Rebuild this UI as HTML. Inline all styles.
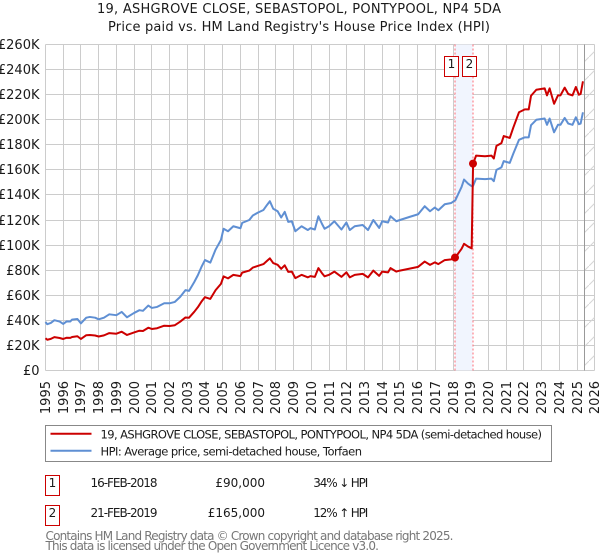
<!DOCTYPE html>
<html>
<head>
<meta charset="utf-8">
<style>
html,body{margin:0;padding:0;background:#fff;width:600px;height:560px;overflow:hidden}
svg{display:block}
text{font-family:"DejaVu Sans","Liberation Sans",sans-serif;fill:#1a1a1a}
</style>
</head>
<body>
<svg id="chart" width="600" height="560" viewBox="0 0 600 560" xmlns="http://www.w3.org/2000/svg">
<defs>
<pattern id="hatch" width="19" height="19" patternUnits="userSpaceOnUse">
<path d="M-1 20 L20 -1" stroke="#d5d5d5" stroke-width="1" fill="none"/>
</pattern>
</defs>
<text x="299" y="13" font-size="13" text-anchor="middle" textLength="404">19, ASHGROVE CLOSE, SEBASTOPOL, PONTYPOOL, NP4 5DA</text>
<text x="299" y="31" font-size="13" text-anchor="middle" textLength="382">Price paid vs. HM Land Registry's House Price Index (HPI)</text>
<g id="grid"></g>
<g id="overlays"></g>
<g id="series"></g>
<g id="xlabels"></g>
<g id="ylabels"></g>

<g>
<rect x="45.5" y="425.5" width="506" height="36" fill="#fff" stroke="#888" stroke-width="1"/>
<line x1="50.5" x2="91.5" y1="433.7" y2="433.7" stroke="#cc0000" stroke-width="2"/>
<text x="100.5" y="438.5" font-size="11.5" textLength="441.5">19, ASHGROVE CLOSE, SEBASTOPOL, PONTYPOOL, NP4 5DA (semi-detached house)</text>
<line x1="50.5" x2="91.5" y1="450.7" y2="450.7" stroke="#5f8fd3" stroke-width="2"/>
<text x="100.5" y="455.5" font-size="11.5" textLength="261.5">HPI: Average price, semi-detached house, Torfaen</text>
</g>

<g>
<rect x="45.5" y="475.5" width="14" height="20" fill="#fff" stroke="#cc0000" stroke-width="1"/>
<text x="52.5" y="487" font-size="12" text-anchor="middle">1</text>
<text x="90.5" y="487" font-size="12" textLength="67">16-FEB-2018</text>
<text x="265" y="487" font-size="12" text-anchor="end">£90,000</text>
<text x="313.3" y="487" font-size="12" textLength="55">34% ↓ HPI</text>
<rect x="45.5" y="505.5" width="14" height="20" fill="#fff" stroke="#cc0000" stroke-width="1"/>
<text x="52.5" y="517" font-size="12" text-anchor="middle">2</text>
<text x="90.5" y="517" font-size="12" textLength="67">21-FEB-2019</text>
<text x="265" y="517" font-size="12" text-anchor="end">£165,000</text>
<text x="313.3" y="517" font-size="12" textLength="55">12% ↑ HPI</text>
</g>

<text x="45.5" y="540" font-size="12" style="fill:#777" textLength="408">Contains HM Land Registry data © Crown copyright and database right 2025.</text>
<text x="45.5" y="550" font-size="12" style="fill:#777" textLength="333.5">This data is licensed under the Open Government Licence v3.0.</text>
</svg>

<script>
const yearTicks = [1995,1996,1997,1998,1999,2000,2001,2002,2003,2004,2005,2006,2007,2008,2009,2010,2011,2012,2013,2014,2015,2016,2017,2018,2019,2020,2021,2022,2023,2024,2025,2026];
const priceTicks = [0,20,40,60,80,100,120,140,160,180,200,220,240,260];
const dates = [1995.0,1995.1,1995.3,1995.5,1995.8,1996.0,1996.2,1996.4,1996.5,1996.8,1997.0,1997.3,1997.5,1997.8,1998.0,1998.3,1998.6,1999.0,1999.3,1999.6,2000.0,2000.3,2000.5,2000.8,2001.0,2001.3,2001.7,2002.0,2002.3,2002.6,2002.9,2003.1,2003.4,2003.6,2003.8,2004.0,2004.3,2004.6,2004.9,2005.05,2005.3,2005.6,2006.0,2006.1,2006.5,2006.7,2007.0,2007.3,2007.5,2007.66,2007.85,2008.1,2008.3,2008.5,2008.7,2008.9,2009.1,2009.45,2009.8,2009.95,2010.2,2010.4,2010.6,2010.75,2011.0,2011.3,2011.7,2011.98,2012.17,2012.45,2012.9,2013.2,2013.5,2013.83,2014.0,2014.33,2014.47,2014.8,2015.0,2015.55,2016.03,2016.4,2016.7,2016.97,2017.17,2017.53,2017.9,2018.13,2018.3,2018.48,2018.62,2018.85,2019.05,2019.13,2019.3,2019.8,2020.17,2020.3,2020.45,2020.73,2020.86,2021.2,2021.4,2021.72,2022.05,2022.27,2022.4,2022.7,2023.17,2023.3,2023.45,2023.7,2023.92,2024.06,2024.3,2024.5,2024.74,2024.93,2025.1,2025.2,2025.33];
const hpiValues = [38.6,36.8,37.8,40,38.9,37,39.1,39,40.5,41,37.5,42,42.6,42,40.7,42,44.7,44,46.6,42.3,45.8,48,47.5,51.7,49.8,50.6,53.5,53.5,54.6,58.6,64,63.4,70.6,76,82.5,88,86,96.4,104,113,111,115,113.4,117.7,120,123.6,126,128,132,135,129,127,122,126.5,118.5,119,111,115,112,113.5,112.4,123,117,113,115,119,112.4,118,112,115,116,112,120,113.7,119,118,123,119,120,122.5,124.6,131,127,130,127.8,132.6,133.6,135.8,141,146.4,152.3,149,147,147.3,153,152.6,153,151,160,162,167,165.6,173,184,186,186,195.7,200,201,196,201,190,196,196,201.5,197,196,202,196.5,197,206];
const paidValues = [25.6,24.4,25.1,26.5,25.8,25,26,25.9,26.6,27.2,25,28,28.2,27.8,27,27.9,29.7,29.2,30.8,28.2,30.2,31.6,31.4,34,33,33.6,35.6,35.4,36,38.8,42.2,42,46.8,50.4,54.8,58.4,57,64,69,75,73.4,76.2,75.2,78,79.6,82,83.4,84.8,87.4,89.4,85.6,84.2,81,83.8,78.6,78.8,73.6,76.2,74.2,75.2,74.6,81.6,77.6,75,76.2,78.8,74.6,78.2,74.2,76.2,77,74.2,79.6,75.4,78.8,78.2,81.6,78.8,79.6,81.2,82.6,86.8,84.2,86.2,84.8,88,88.6,90,93.5,97,101,98.8,97.4,165,171.4,170.9,171.4,169.1,179.2,181.4,187,185.5,193.8,206,208.3,208.3,219.2,224,225.1,219.5,225.1,212.8,219.5,219.5,225.7,220.6,219.5,226.2,220,220.6,230.7];
const saleDates = [2018.13,2019.13];
const salePrices = [90,165];
const saleLabels = ["1","2"];
const dataEnd = [2025.4];

const NS = "http://www.w3.org/2000/svg";
const xScale = function (year) { return 45.5 + (year - 1995) * 17.72; };
const yScale = function (k) { return 370.3 - k * 1.2525; };
const gridX = function (year) { return Math.round(xScale(year) - 0.5) + 0.5; };
const gridY = function (k) { return Math.round(yScale(k) - 0.49) + 0.5; };
const make = function (tag, attrs, parent) {
  const el = document.createElementNS(NS, tag);
  for (const key in attrs) { el.setAttribute(key, attrs[key]); }
  parent.appendChild(el);
  return el;
};
const grid = document.getElementById("grid");
const overlays = document.getElementById("overlays");
const series = document.getElementById("series");
const xlabels = document.getElementById("xlabels");
const ylabels = document.getElementById("ylabels");
const left = gridX(yearTicks[0]);
const right = gridX(yearTicks[yearTicks.length - 1]);
const top_ = gridY(priceTicks[priceTicks.length - 1]);
const bottom = gridY(priceTicks[0]);

yearTicks.forEach(function (year) {
  const x = gridX(year);
  const line = make("line", {x1: x, x2: x, y1: top_, y2: bottom, stroke: "#ccc", "stroke-width": 1}, grid);
  
  
  const label = make("text", {transform: "translate(" + (x + 4.5) + ",381) rotate(-90)", "font-size": 13, "text-anchor": "end"}, xlabels);
  label.textContent = String(year);
  
  
});
priceTicks.forEach(function (k) {
  const y = gridY(k);
  const line = make("line", {x1: left, x2: right, y1: y, y2: y, stroke: "#ccc", "stroke-width": 1}, grid);
  
  
  const label = make("text", {x: 39.5, y: y + 4.5, "font-size": 13, "text-anchor": "end"}, ylabels);
  label.textContent = "£" + k + (k ? "K" : "");
  
  
});

const band = make("rect", {x: xScale(saleDates[0]) - 0.5, y: top_, width: xScale(saleDates[1]) - xScale(saleDates[0]), height: bottom - top_, fill: "#f1f5fe"}, overlays);


const endX = gridX(dataEnd[0]);
const hatch = make("rect", {x: endX, y: top_, width: right - endX, height: bottom - top_, fill: "url(#hatch)"}, overlays);


const endLine = make("line", {x1: endX, x2: endX, y1: top_, y2: bottom, stroke: "#999", "stroke-width": 1}, overlays);



const pathFrom = function (values) {
  return values.map(function (v, i) {
    return (i ? "L" : "M") + xScale(dates[i]).toFixed(2) + " " + yScale(v).toFixed(2);
  }).join(" ");
};
const hpiLine = make("path", {d: pathFrom(hpiValues), fill: "none", stroke: "#5f8fd3", "stroke-width": 2, "stroke-linejoin": "round"}, series);


const paidLine = make("path", {d: pathFrom(paidValues), fill: "none", stroke: "#cc0000", "stroke-width": 2, "stroke-linejoin": "round"}, series);



saleDates.forEach(function (d, i) {
  const x = gridX(d) - 0.5;
  const guide = make("line", {x1: x, x2: x, y1: top_, y2: bottom, stroke: "#ff6b75", "stroke-width": 1, "stroke-dasharray": "2 2"}, overlays);
  
  
  const dot = make("circle", {cx: x, cy: yScale(salePrices[i]), r: 4, fill: "#cc0000"}, series);
  
  
  const boxX = Math.floor(x) - 10.5;
  const box = make("rect", {x: boxX, y: 56.5, width: 14, height: 20, fill: "#fff", stroke: "#cc0000", "stroke-width": 1}, series);
  
  
  const num = make("text", {x: boxX + 7, y: 68, "font-size": 12, "text-anchor": "middle"}, series);
  num.textContent = saleLabels[i];
  
  
});
</script>
</body>
</html>
